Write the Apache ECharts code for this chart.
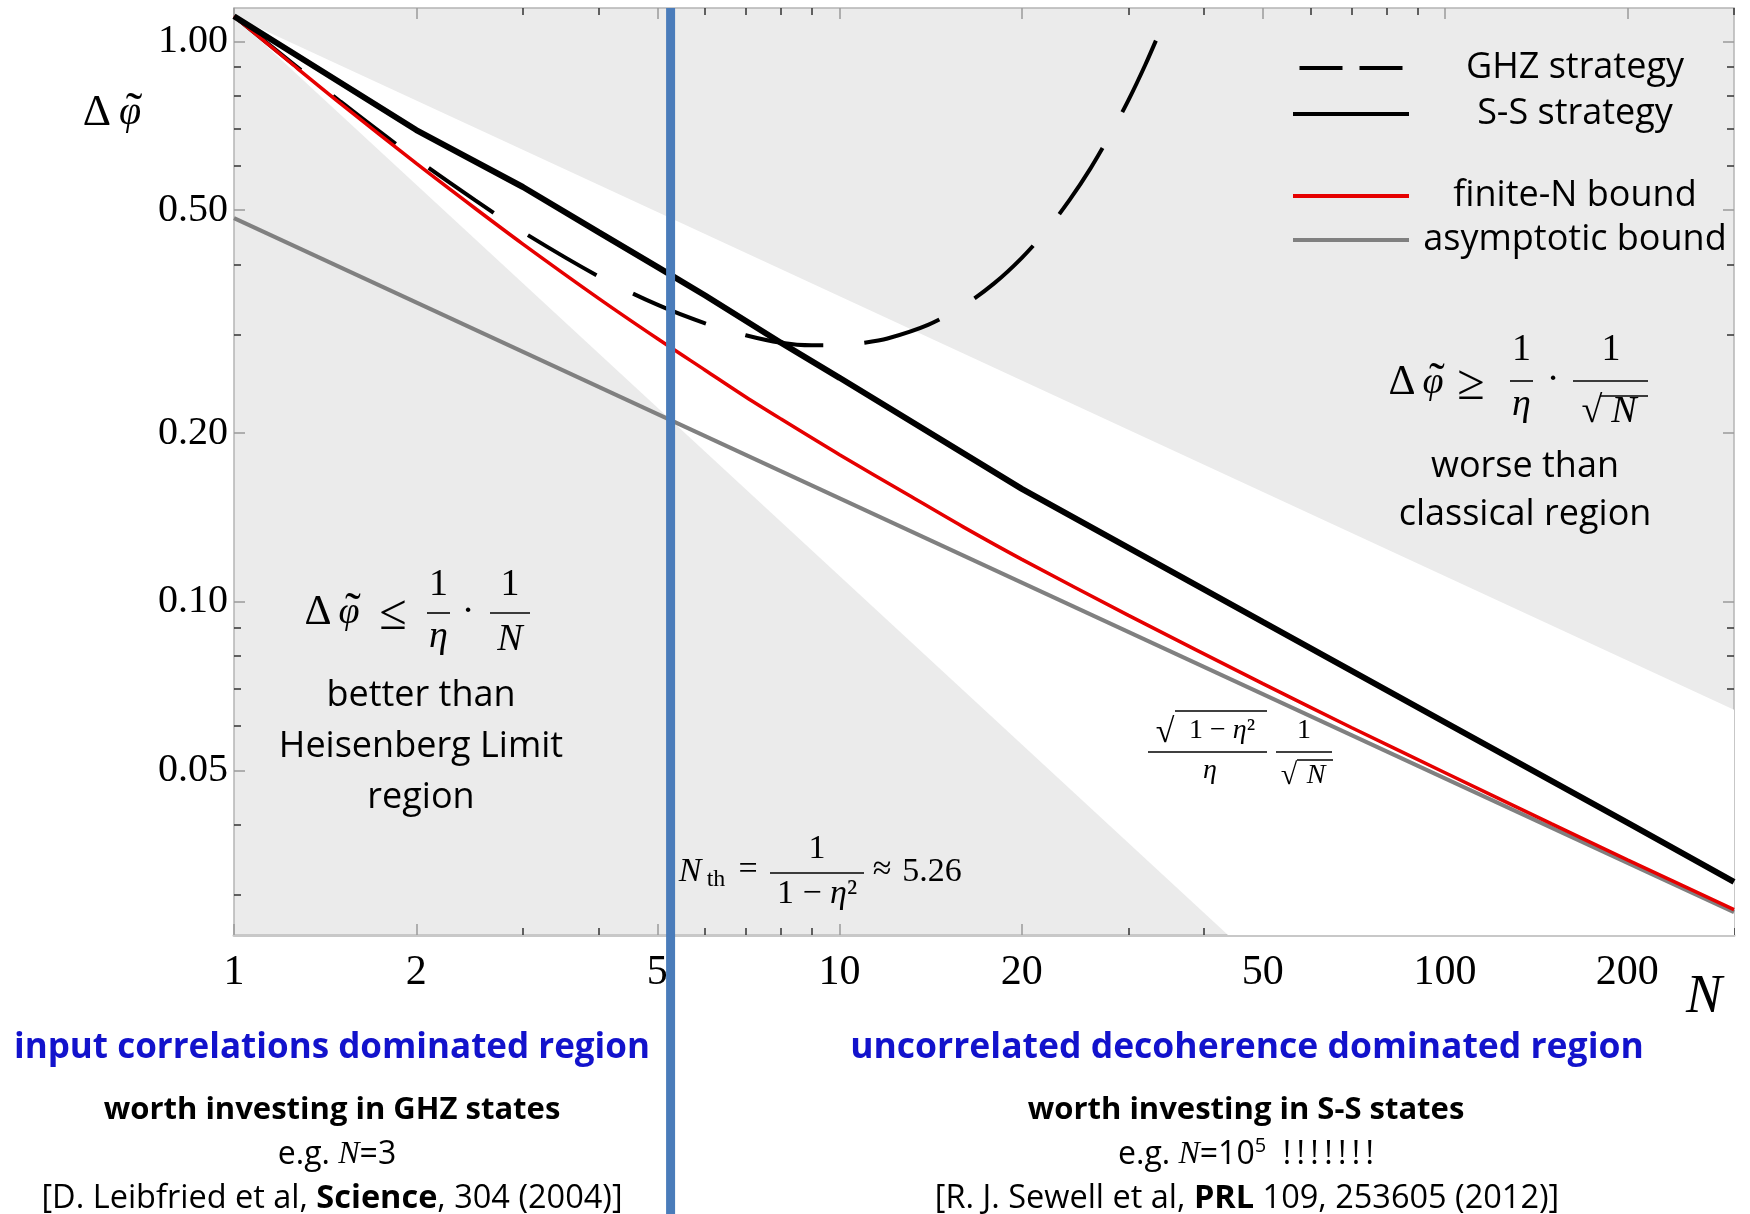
<!DOCTYPE html>
<html>
<head>
<meta charset="utf-8">
<script src="https://cdn.jsdelivr.net/npm/echarts@6/dist/echarts.min.js"></script>
<style>
  html, body { margin: 0; padding: 0; background: #fff; }
  #main { width: 1750px; height: 1214px; }
</style>
</head>
<body>
<div id="main"></div>
<script>
// values (N on a log axis, delta phi on a log axis)
var ssN = [1, 2, 3, 4, 5, 6, 8, 10, 20, 50, 100, 200, 300];
var ssVal = [1.11, 0.695, 0.55, 0.457, 0.396, 0.352, 0.29, 0.251, 0.159, 0.092, 0.0609, 0.0403, 0.0316];

var ghzN = [1, 1.5, 2, 2.5, 3, 4, 5, 6, 7, 8, 9, 10, 11, 12, 14, 16, 18, 20, 22, 24, 26, 28, 30, 32, 34];
var ghzVal = [1.11, 0.781, 0.617, 0.521, 0.457, 0.381, 0.339, 0.314, 0.299, 0.29, 0.287, 0.287, 0.29, 0.295,
  0.312, 0.337, 0.37, 0.411, 0.461, 0.522, 0.595, 0.683, 0.786, 0.91, 1.058];

var finN = [1, 1.25, 1.5, 2, 2.5, 3, 4, 5, 6, 7, 8, 10, 13, 16, 20, 30, 50, 70, 100, 150, 200, 300];
var finVal = [1.11, 0.91, 0.775, 0.606, 0.504, 0.435, 0.348, 0.295, 0.259, 0.232, 0.212, 0.183, 0.155, 0.136,
  0.119, 0.0945, 0.0714, 0.0596, 0.0495, 0.0401, 0.0346, 0.0282];

var asymN = [1, 300];
var asymVal = [0.484, 0.0279];

// white wedge between 1/(eta N) and 1/(eta sqrt N)
var wedgeN = [1, 300, 300, 43.8];
var wedgeVal = [1.11, 0.0641, 0.0254, 0.0254];

var thresholdN = [5.26];

var xMajor = [1, 2, 5, 10, 20, 50, 100, 200];
var xMinor = [3, 4, 6, 7, 8, 9, 30, 40, 60, 70, 80, 90, 300];
var yMajor = [0.05, 0.1, 0.2, 0.5, 1];
var yMinor = [0.03, 0.04, 0.06, 0.07, 0.08, 0.09, 0.3, 0.4, 0.6, 0.7, 0.8, 0.9];

var X_MIN = 1, X_MAX = 300, Y_MIN = 0.0254, Y_MAX = 1.148;
var SERIF = 'Liberation Serif';
var SANS = 'Open Sans';
var BLUE_TXT = '#1212cc';

function pairs(xs, ys) {
  return xs.map(function (x, i) { return [x, ys[i]]; });
}

function axis(kind, pos, ticks, len, tickColor, label, line) {
  return {
    type: 'log', logBase: 10, gridIndex: 0, position: pos,
    min: kind === 'x' ? X_MIN : Y_MIN,
    max: kind === 'x' ? X_MAX : Y_MAX,
    axisLine: { show: !!line, onZero: false, lineStyle: line || {} },
    axisTick: { show: true, inside: true, length: len, customValues: ticks, lineStyle: { color: tickColor, width: 1.5 } },
    axisLabel: label ? Object.assign({ customValues: ticks }, label) : { show: false },
    splitLine: { show: false },
    minorTick: { show: false },
    minorSplitLine: { show: false }
  };
}

var frameLine = { color: '#b4b4b4', width: 1.5 };

var xAxes = [
  axis('x', 'bottom', xMajor, 11, '#9a9a9a', {
    margin: 17, fontSize: 42, fontFamily: SERIF, color: '#000',
    formatter: function (v) { return String(Math.round(v)); }
  }, { color: '#c8c8c8', width: 3 }),
  axis('x', 'bottom', xMinor, 7, '#333'),
  axis('x', 'top', xMajor, 11, '#9a9a9a', null, frameLine),
  axis('x', 'top', xMinor, 7, '#333')
];
var yAxes = [
  axis('y', 'left', yMajor, 11, '#9a9a9a', {
    margin: 6, fontSize: 40, fontFamily: SERIF, color: '#000',
    formatter: function (v) { return v.toFixed(2); }
  }, frameLine),
  axis('y', 'left', yMinor, 7, '#333'),
  axis('y', 'right', yMajor, 11, '#9a9a9a', null, frameLine),
  axis('y', 'right', yMinor, 7, '#333')
];

// --- annotation helpers
function txt(x, y, s, fs, extra) {
  return {
    type: 'text', x: x, y: y, z: 50, silent: true,
    style: Object.assign({
      text: s, fontSize: fs, fontFamily: SERIF, fill: '#000',
      align: 'center', verticalAlign: 'middle'
    }, extra || {})
  };
}
function it(x, y, s, fs) { return txt(x, y, s, fs, { fontStyle: 'italic' }); }
function sans(x, y, s, fs, extra) { return txt(x, y, s, fs, Object.assign({ fontFamily: SANS }, extra || {})); }
function bar(x1, x2, y, w) {
  return { type: 'line', z: 50, silent: true, shape: { x1: x1, y1: y, x2: x2, y2: y }, style: { stroke: '#000', lineWidth: w || 1.6 } };
}
// italic phi with a tilde on top
function phiT(x, y, fs) {
  return [it(x, y, 'φ', fs), txt(x + 0.1 * fs, y + 0.02 * fs, '˜', fs * 1.25)];
}
function mathRich(fs) {
  return {
    r: { fontFamily: SERIF, fontSize: fs },
    i: { fontFamily: SERIF, fontSize: fs, fontStyle: 'italic' }
  };
}

var graphics = [].concat(
  // y axis title
  [txt(97, 113, 'Δ', 44)], phiT(130, 113, 40),
  // x axis title
  [it(1704, 998, 'N', 54)],

  // lower left formula and text
  [txt(318, 613, 'Δ', 42)], phiT(349, 613, 38),
  [txt(393, 616, '≤', 50),
   txt(438.5, 585, '1', 38), bar(427, 450, 613), it(438.5, 637, 'η', 38),
   txt(468, 612, '·', 38),
   txt(510, 585, '1', 38), bar(490, 530, 613), it(510, 640, 'N', 38),
   sans(421, 696, 'better than', 36),
   sans(421, 747, 'Heisenberg Limit', 36),
   sans(421, 798, 'region', 36)],

  // upper right formula and text
  [txt(1402, 383, 'Δ', 42)], phiT(1433, 383, 38),
  [txt(1471, 386, '≥', 50),
   txt(1521.5, 350, '1', 38), bar(1510, 1533, 381), it(1521.5, 405, 'η', 38),
   txt(1553, 380, '·', 38),
   txt(1611, 350, '1', 38), bar(1573, 1648, 381),
   txt(1592, 412, '√', 38), bar(1600, 1648, 396), it(1624, 412, 'N', 38),
   sans(1525, 467, 'worse than', 36),
   sans(1525, 515, 'classical region', 36)],

  // asymptotic bound label
  [txt(1165, 733, '√', 34), bar(1175, 1267, 711, 1.3),
   txt(1222, 731, '{r|1 − }{i|η}{r|²}', 28, { rich: mathRich(28) }),
   bar(1148, 1267, 752, 1.3), it(1210, 771, 'η', 28),
   txt(1304, 731, '1', 28), bar(1276, 1332, 752, 1.3),
   txt(1289, 776, '√', 30), bar(1297, 1333, 760, 1.3), it(1316, 776, 'N', 28)],

  // threshold label
  [it(690, 872, 'N', 34), txt(716, 880, 'th', 24), txt(748, 870, '=', 34),
   txt(817, 849, '1', 34), bar(770, 864, 873, 1.5),
   txt(817, 894, '{r|1 − }{i|η}{r|²}', 34, { rich: mathRich(34) }),
   txt(882, 870, '≈', 34), txt(932, 872, '5.26', 34)],

  // bottom captions
  [sans(332, 1048, 'input correlations dominated region', 35, { fontWeight: 'bold', fill: BLUE_TXT }),
   sans(1247, 1048, 'uncorrelated decoherence dominated region', 35.5, { fontWeight: 'bold', fill: BLUE_TXT }),
   sans(332, 1110, 'worth investing in GHZ states', 31, { fontWeight: 'bold' }),
   sans(1246, 1110, 'worth investing in S-S states', 31, { fontWeight: 'bold' }),
   sans(337, 1155, '{a|e.g. }{n|N}{a|=3}', 32, {
     rich: { a: { fontFamily: SANS, fontSize: 32 }, n: { fontFamily: SERIF, fontStyle: 'italic', fontSize: 32 } }
   }),
   sans(1246, 1155, '{a|e.g. }{n|N}{a|=10}{s|5}{a|  !\u2006!\u2006!\u2006!\u2006!\u2006!\u2006!}', 32, {
     rich: {
       a: { fontFamily: SANS, fontSize: 32, lineHeight: 38 },
       n: { fontFamily: SERIF, fontStyle: 'italic', fontSize: 32, lineHeight: 38 },
       s: { fontFamily: SANS, fontSize: 20, lineHeight: 20, verticalAlign: 'top' }
     }
   }),
   sans(332, 1199, '{a|[D. Leibfried et al, }{b|Science}{a|, 304 (2004)]}', 32.5, {
     rich: { a: { fontFamily: SANS, fontSize: 32.5 }, b: { fontFamily: SANS, fontSize: 32.5, fontWeight: 'bold' } }
   }),
   sans(1247, 1199, '{a|[R. J. Sewell et al, }{b|PRL}{a| 109, 253605 (2012)]}', 32.5, {
     rich: { a: { fontFamily: SANS, fontSize: 32.5 }, b: { fontFamily: SANS, fontSize: 32.5, fontWeight: 'bold' } }
   })]
);

function legendBlock(top, gap, items) {
  return {
    orient: 'vertical', left: 1293, top: top, itemWidth: 116, itemHeight: 4, itemGap: gap,
    itemTextGap: 5, selectedMode: false, padding: 0,
    itemStyle: { borderWidth: 0 },
    data: items,
    formatter: function (name) { return '{c|' + name + '}'; },
    textStyle: {
      color: '#000', fontFamily: SANS, fontSize: 36, lineHeight: 20,
      rich: { c: { width: 322, align: 'center', fontFamily: SANS, fontSize: 36, lineHeight: 20 } }
    }
  };
}

var chart = echarts.init(document.getElementById('main'), null, { renderer: 'canvas' });

chart.setOption({
  animation: false,
  backgroundColor: '#fff',
  grid: {
    left: 234, right: 16, top: 8, bottom: 279,
    show: true, backgroundColor: '#ebebeb', borderWidth: 0,
    outerBoundsMode: 'none'
  },
  xAxis: xAxes,
  yAxis: yAxes,
  legend: [
    legendBlock(50, 10, [
      { name: 'GHZ strategy', icon: 'path://M0,0h43v4h-43z M60,0h43v4h-43z' },
      { name: 'S-S strategy', icon: 'rect' }
    ]),
    legendBlock(178, 8, [
      { name: 'finite-N bound', icon: 'rect' },
      { name: 'asymptotic bound', icon: 'rect' }
    ])
  ],
  graphic: graphics,
  series: [
    {
      type: 'custom', name: 'wedge', silent: true, clip: true, z: 1,
      data: [[wedgeN[0], wedgeVal[0]]],
      renderItem: function (params, api) {
        var pts = wedgeN.map(function (n, i) { return api.coord([n, wedgeVal[i]]); });
        return { type: 'polygon', shape: { points: pts }, style: { fill: '#ffffff' } };
      }
    },
    {
      type: 'line', name: 'asymptotic bound', data: pairs(asymN, asymVal), symbol: 'none', z: 3,
      itemStyle: { color: '#808080' }, lineStyle: { color: '#808080', width: 4 }
    },
    {
      type: 'line', name: 'GHZ strategy', data: pairs(ghzN, ghzVal), symbol: 'none', smooth: 0.3, z: 4,
      itemStyle: { color: '#000' }, lineStyle: { color: '#000', width: 4, type: [79, 41], dashOffset: 113 }
    },
    {
      type: 'line', name: 'finite-N bound', data: pairs(finN, finVal), symbol: 'none', smooth: 0.3, z: 5,
      itemStyle: { color: '#e60000' }, lineStyle: { color: '#e60000', width: 3.5 }
    },
    {
      type: 'line', name: 'S-S strategy', data: pairs(ssN, ssVal), symbol: 'none', z: 6,
      itemStyle: { color: '#000' }, lineStyle: { color: '#000', width: 6 }
    },
    {
      type: 'custom', name: 'threshold', silent: true, clip: false, z: 20,
      data: [[thresholdN[0], Y_MAX]],
      renderItem: function (params, api) {
        var top = api.coord([thresholdN[0], Y_MAX]);
        return {
          type: 'line',
          shape: { x1: top[0], y1: top[1], x2: top[0], y2: api.getHeight() },
          style: { stroke: '#4a7cba', lineWidth: 9 }
        };
      }
    }
  ]
});
</script>
</body>
</html>
